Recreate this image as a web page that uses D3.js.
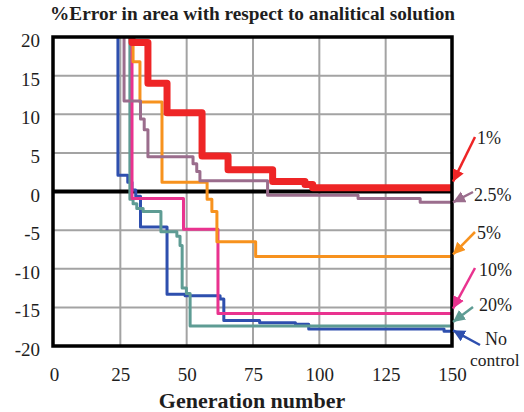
<!DOCTYPE html>
<html>
<head>
<meta charset="utf-8">
<script src="https://cdn.jsdelivr.net/npm/d3@7/dist/d3.min.js"></script>
<style>
  html, body { margin: 0; padding: 0; background: #fff; }
  svg { display: block; }
</style>
</head>
<body>
<svg id="chart" width="524" height="412"></svg>
<script>
// ---- data ----
const seriesNames = ["No control", "20%", "10%", "5%", "2.5%", "1%"];
const xTicks = [0, 25, 50, 75, 100, 125, 150];
const yTicks = [20, 15, 10, 5, 0, -5, -10, -15, -20];

const noControlGen = [20, 24.1, 27.8, 29.4, 30.8, 32.6, 42.6, 49.4, 62.6, 64.0, 77.5, 91.0, 96.0, 147.0, 150];
const noControlErr = [30, 2.1, 1.2, 0.2, -0.6, -4.6, -13.3, -13.5, -13.9, -16.7, -17.0, -17.2, -17.8, -18.1, -18.1];

const p20Gen = [20, 28.6, 29.8, 31.2, 33.6, 40.3, 46.3, 47.5, 48.3, 49.9, 51.3, 150];
const p20Err = [30, -1.0, -1.6, -2.2, -2.6, -5.2, -5.8, -7.0, -12.5, -13.2, -17.4, -17.4];

const p10Gen = [20, 29.4, 48.8, 61.8, 150];
const p10Err = [30, -0.9, -4.9, -15.8, -15.8];

const p5Gen = [20, 29.8, 32.4, 40.7, 57.7, 59.5, 61.4, 76.0, 150];
const p5Err = [30, 16.8, 11.6, 1.2, -1.0, -2.6, -6.5, -8.4, -8.4];

const p25Gen = [20, 26.4, 32.6, 34.0, 35.4, 52.4, 53.8, 55.0, 80.5, 114.6, 138.0, 150];
const p25Err = [30, 11.7, 9.4, 8.0, 4.5, 3.6, 2.6, 1.4, -0.5, -0.9, -1.4, -1.4];

const p1Gen = [20, 29.4, 35.4, 42.6, 55.8, 65.6, 82.4, 94.6, 97.5, 150];
const p1Err = [30, 19.3, 14.0, 10.2, 4.6, 2.8, 1.3, 0.9, 0.5, 0.5];

const seriesGens = [noControlGen, p20Gen, p10Gen, p5Gen, p25Gen, p1Gen];
const seriesErrs = [noControlErr, p20Err, p10Err, p5Err, p25Err, p1Err];

// ---- styles ----
const FONT = "'Liberation Serif', 'DejaVu Serif', 'Times New Roman', Times, serif";
const colors = ["#2E4FAE", "#5E9C94", "#E9338F", "#F7921E", "#9B6D8D", "#EE2526"];
const widths = [3, 3, 3, 3, 3, 7];
const labelPos = [
  {x: 485, y: 345, sx: 480, sy: 345, tdy: -1},
  {x: 479, y: 311, sx: 473, sy: 307, tdy: -4},
  {x: 479, y: 276, sx: 475, sy: 268, tdy: -5},
  {x: 477, y: 239, sx: 475, sy: 232, tdy: -2},
  {x: 474, y: 201, sx: 473, sy: 192, tdy: 0},
  {x: 477, y: 144, sx: 475, sy: 137, tdy: -6}
];

const svg = d3.select("#chart").style("font-family", FONT);
const M = {left: 53, right: 452, top: 37, bottom: 346};

const x = d3.scaleLinear().domain([0, 150]).range([M.left + 1, M.right]);
const y = d3.scaleLinear().domain([-20, 20]).range([M.bottom, M.top]);

function txt(sel) {
  return sel.style("font-family", FONT).attr("fill", "#1e1e1e");
}

// title
txt(svg.append("text"))
  .attr("x", 50).attr("y", 20)
  .style("font-size", "19.3px").style("font-weight", "bold")
  .text("%Error in area with respect to analitical solution");

// grid
const grid = svg.append("g");
grid.selectAll("line.v").data(xTicks.filter(d => d > 0 && d < 150)).enter()
  .append("line")
  .attr("x1", d => x(d)).attr("x2", d => x(d))
  .attr("y1", M.top).attr("y2", M.bottom)
  .attr("stroke", "#a3a3a3").attr("stroke-width", 2);
grid.selectAll("line.h").data(yTicks.filter(d => d !== 0 && Math.abs(d) < 20)).enter()
  .append("line")
  .attr("x1", M.left).attr("x2", M.right)
  .attr("y1", d => y(d)).attr("y2", d => y(d))
  .attr("stroke", "#a3a3a3").attr("stroke-width", 2);

// zero line
svg.append("line")
  .attr("x1", M.left).attr("x2", M.right)
  .attr("y1", y(0)).attr("y2", y(0))
  .attr("stroke", "#000").attr("stroke-width", 4);

// clip
const defs = svg.append("defs");
defs.append("clipPath").attr("id", "clip")
  .append("rect").attr("x", M.left).attr("y", M.top)
  .attr("width", M.right - M.left).attr("height", M.bottom - M.top);

const line = d3.line().curve(d3.curveStepAfter)
  .x(d => x(d[0])).y(d => y(d[1]));

const lines = svg.append("g").attr("clip-path", "url(#clip)");
seriesNames.forEach((name, i) => {
  const pts = seriesGens[i].map((g, k) => [g, seriesErrs[i][k]]);
  lines.append("path")
    .attr("d", line(pts))
    .attr("fill", "none")
    .attr("stroke", colors[i])
    .attr("stroke-width", widths[i])
    .attr("stroke-linejoin", "round");
});

// border
svg.append("rect")
  .attr("x", M.left).attr("y", M.top)
  .attr("width", M.right - M.left).attr("height", M.bottom - M.top)
  .attr("fill", "none").attr("stroke", "#000").attr("stroke-width", 3.5);

// axes
const xAxis = svg.append("g").attr("transform", `translate(0,${M.bottom})`)
  .call(d3.axisBottom(x).tickValues(xTicks).tickSize(0).tickPadding(22).tickFormat(d3.format("d")));
xAxis.attr("font-family", null).attr("font-size", null);
xAxis.select(".domain").remove();
txt(xAxis.selectAll("text")).style("font-size", "19px");

const yAxis = svg.append("g").attr("transform", `translate(${M.left},0)`)
  .call(d3.axisLeft(y).tickValues(yTicks).tickSize(0).tickPadding(13).tickFormat(d => d < 0 ? "-" + Math.abs(d) : d));
yAxis.attr("font-family", null).attr("font-size", null);
yAxis.select(".domain").remove();
txt(yAxis.selectAll("text")).style("font-size", "19px").attr("dy", "0.5em");

txt(svg.append("text"))
  .attr("x", 252).attr("y", 408)
  .attr("text-anchor", "middle")
  .style("font-size", "22px").style("font-weight", "bold")
  .text("Generation number");

// legend annotations with arrows
seriesNames.forEach((name, i) => {
  defs.append("marker")
    .attr("id", "ah" + i)
    .attr("markerUnits", "userSpaceOnUse")
    .attr("markerWidth", 14).attr("markerHeight", 14)
    .attr("refX", 12).attr("refY", 6)
    .attr("orient", "auto")
    .append("path").attr("d", "M0,0 L12,6 L0,12 Z").attr("fill", colors[i]);
});

const ann = svg.append("g");
seriesNames.forEach((name, i) => {
  const L = labelPos[i];
  const errs = seriesErrs[i];
  const tipY = y(errs[errs.length - 1]) + L.tdy;
  ann.append("line")
    .attr("x1", L.sx).attr("y1", L.sy)
    .attr("x2", x(150) + 1).attr("y2", tipY)
    .attr("stroke", colors[i]).attr("stroke-width", 2.5)
    .attr("marker-end", `url(#ah${i})`);
  if (name === "No control") {
    txt(ann.append("text")).attr("x", L.x).attr("y", L.y).style("font-size", "18px").text("No");
    txt(ann.append("text")).attr("x", 470).attr("y", 366).style("font-size", "17.5px").text("control");
  } else {
    txt(ann.append("text")).attr("x", L.x).attr("y", L.y).style("font-size", "18px").text(name);
  }
});
</script>
</body>
</html>
